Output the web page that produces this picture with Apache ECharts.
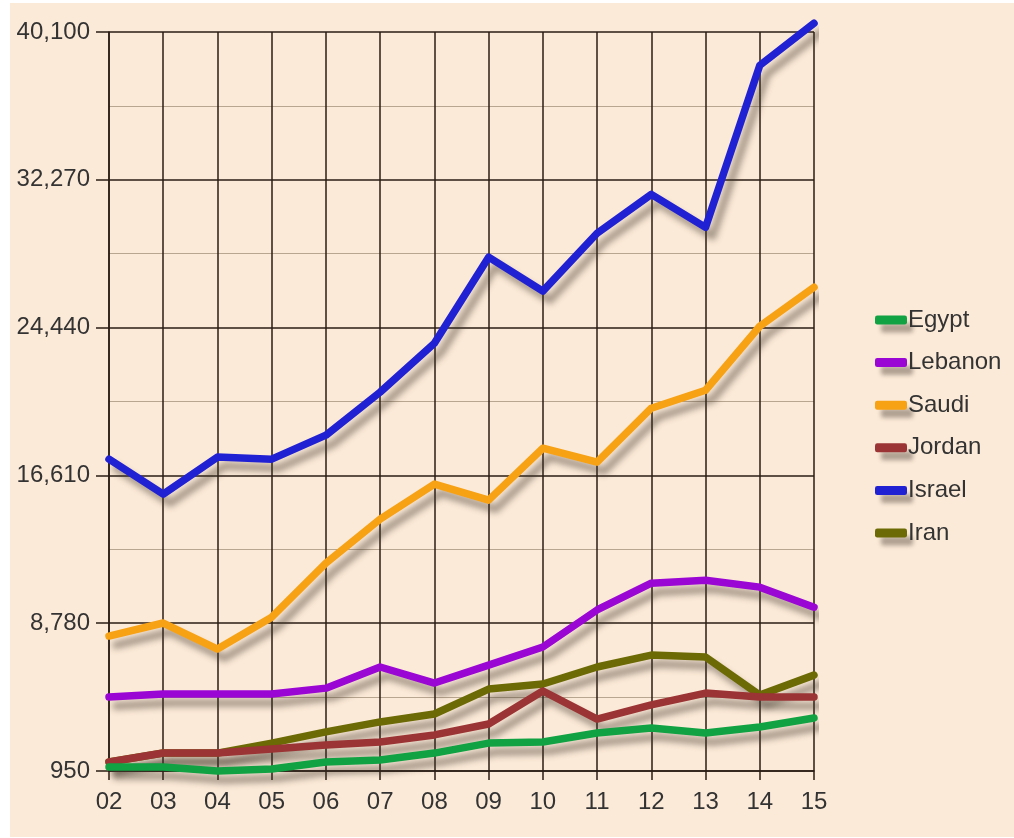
<!DOCTYPE html>
<html>
<head>
<meta charset="utf-8">
<script src="https://cdn.jsdelivr.net/npm/echarts@6/dist/echarts.min.js"></script>
<style>
  html, body { margin: 0; padding: 0; background: #ffffff; }
  #bg { position: absolute; left: 10px; top: 3px; width: 1004px; height: 834px; background: #fcead8; }
  #chart { position: absolute; left: 0; top: 0; width: 1014px; height: 838px; }
</style>
</head>
<body>
<div id="bg"></div>
<div id="chart"></div>
<script>
const years = ['02','03','04','05','06','07','08','09','10','11','12','13','14','15'];
const yTicks = [950, 8780, 16610, 24440, 32270, 40100];

const egypt   = [1160, 1160, 950, 1060, 1430, 1530, 1900, 2430, 2490, 2960, 3230, 2960, 3280, 3760];
const lebanon = [4870, 5030, 5030, 5030, 5340, 6460, 5610, 6560, 7520, 9480, 10900, 11060, 10690, 9630];
const saudi   = [8100, 8790, 7410, 9100, 11960, 14290, 16150, 15300, 18050, 17310, 20170, 21120, 24510, 26580];
const jordan  = [1430, 1900, 1900, 2110, 2330, 2490, 2860, 3440, 5190, 3700, 4450, 5080, 4870, 4870];
const israel  = [17470, 15620, 17580, 17470, 18740, 21020, 23610, 28170, 26370, 29440, 31500, 29750, 38330, 40560];
const iran    = [1430, 1900, 1900, 2430, 3020, 3550, 3970, 5290, 5560, 6460, 7090, 6990, 4970, 6030];

const names  = ['Egypt', 'Lebanon', 'Saudi', 'Jordan', 'Israel', 'Iran'];
const values = [egypt, lebanon, saudi, jordan, israel, iran];
const colors = ['#11a243', '#9a06d4', '#f7a115', '#9b3434', '#2121d4', '#6b6a04'];

const chart = echarts.init(document.getElementById('chart'));
const fontFam = '"Liberation Sans", Arial, sans-serif';

// drawing order (later = on top)
const order = [5, 3, 0, 1, 2, 4];
const series = order.map(i => ({
  name: names[i],
  type: 'line',
  data: values[i],
  symbol: 'none',
  clip: false,
  z: 3,
  lineStyle: {
    width: 7.5,
    color: colors[i],
    cap: 'round',
    join: 'round',
    shadowColor: 'rgba(60,50,40,0.45)',
    shadowBlur: 6,
    shadowOffsetX: 7,
    shadowOffsetY: 9
  },
  itemStyle: { color: colors[i] },
  emphasis: { disabled: true }
}));

chart.setOption({
  animation: false,
  color: colors,
  grid: { left: 109, right: 200, top: 32, bottom: 67, containLabel: false },
  legend: {
    data: names,
    orient: 'vertical',
    left: 870,
    top: 303,
    itemGap: 18.6,
    itemWidth: 32,
    itemHeight: 9,
    icon: 'roundRect',
    itemStyle: { shadowColor: 'rgba(60,50,40,0.4)', shadowBlur: 4, shadowOffsetX: 6, shadowOffsetY: 8 },
    textStyle: { fontFamily: fontFam, fontSize: 24, color: '#333333', padding: [0, 0, 0, -4] }
  },
  xAxis: {
    type: 'category',
    data: years,
    boundaryGap: false,
    axisLine: { lineStyle: { color: '#2a1d14', width: 1.5 } },
    axisTick: { show: true, length: 9, lineStyle: { color: '#2a1d14', width: 1.5 } },
    axisLabel: { fontFamily: fontFam, fontSize: 24, color: '#333333', margin: 19 },
    splitLine: { show: true, lineStyle: { color: '#2a1d14', width: 1.5 } }
  },
  yAxis: {
    type: 'value',
    min: yTicks[0],
    max: yTicks[yTicks.length - 1],
    interval: yTicks[1] - yTicks[0],
    axisLine: { show: true, lineStyle: { color: '#2a1d14', width: 1.5 } },
    axisTick: { show: true, length: 13, lineStyle: { color: '#2a1d14', width: 1.5 } },
    axisLabel: {
      fontFamily: fontFam, fontSize: 24, color: '#333333', margin: 19,
      formatter: v => v.toLocaleString('en-US')
    },
    splitLine: { show: true, lineStyle: { color: '#2a1d14', width: 1.5 } },
    minorTick: { show: false, splitNumber: 2 },
    minorSplitLine: { show: true, lineStyle: { color: '#b9a690', width: 1.2 } }
  },
  series: series
});
</script>
</body>
</html>
